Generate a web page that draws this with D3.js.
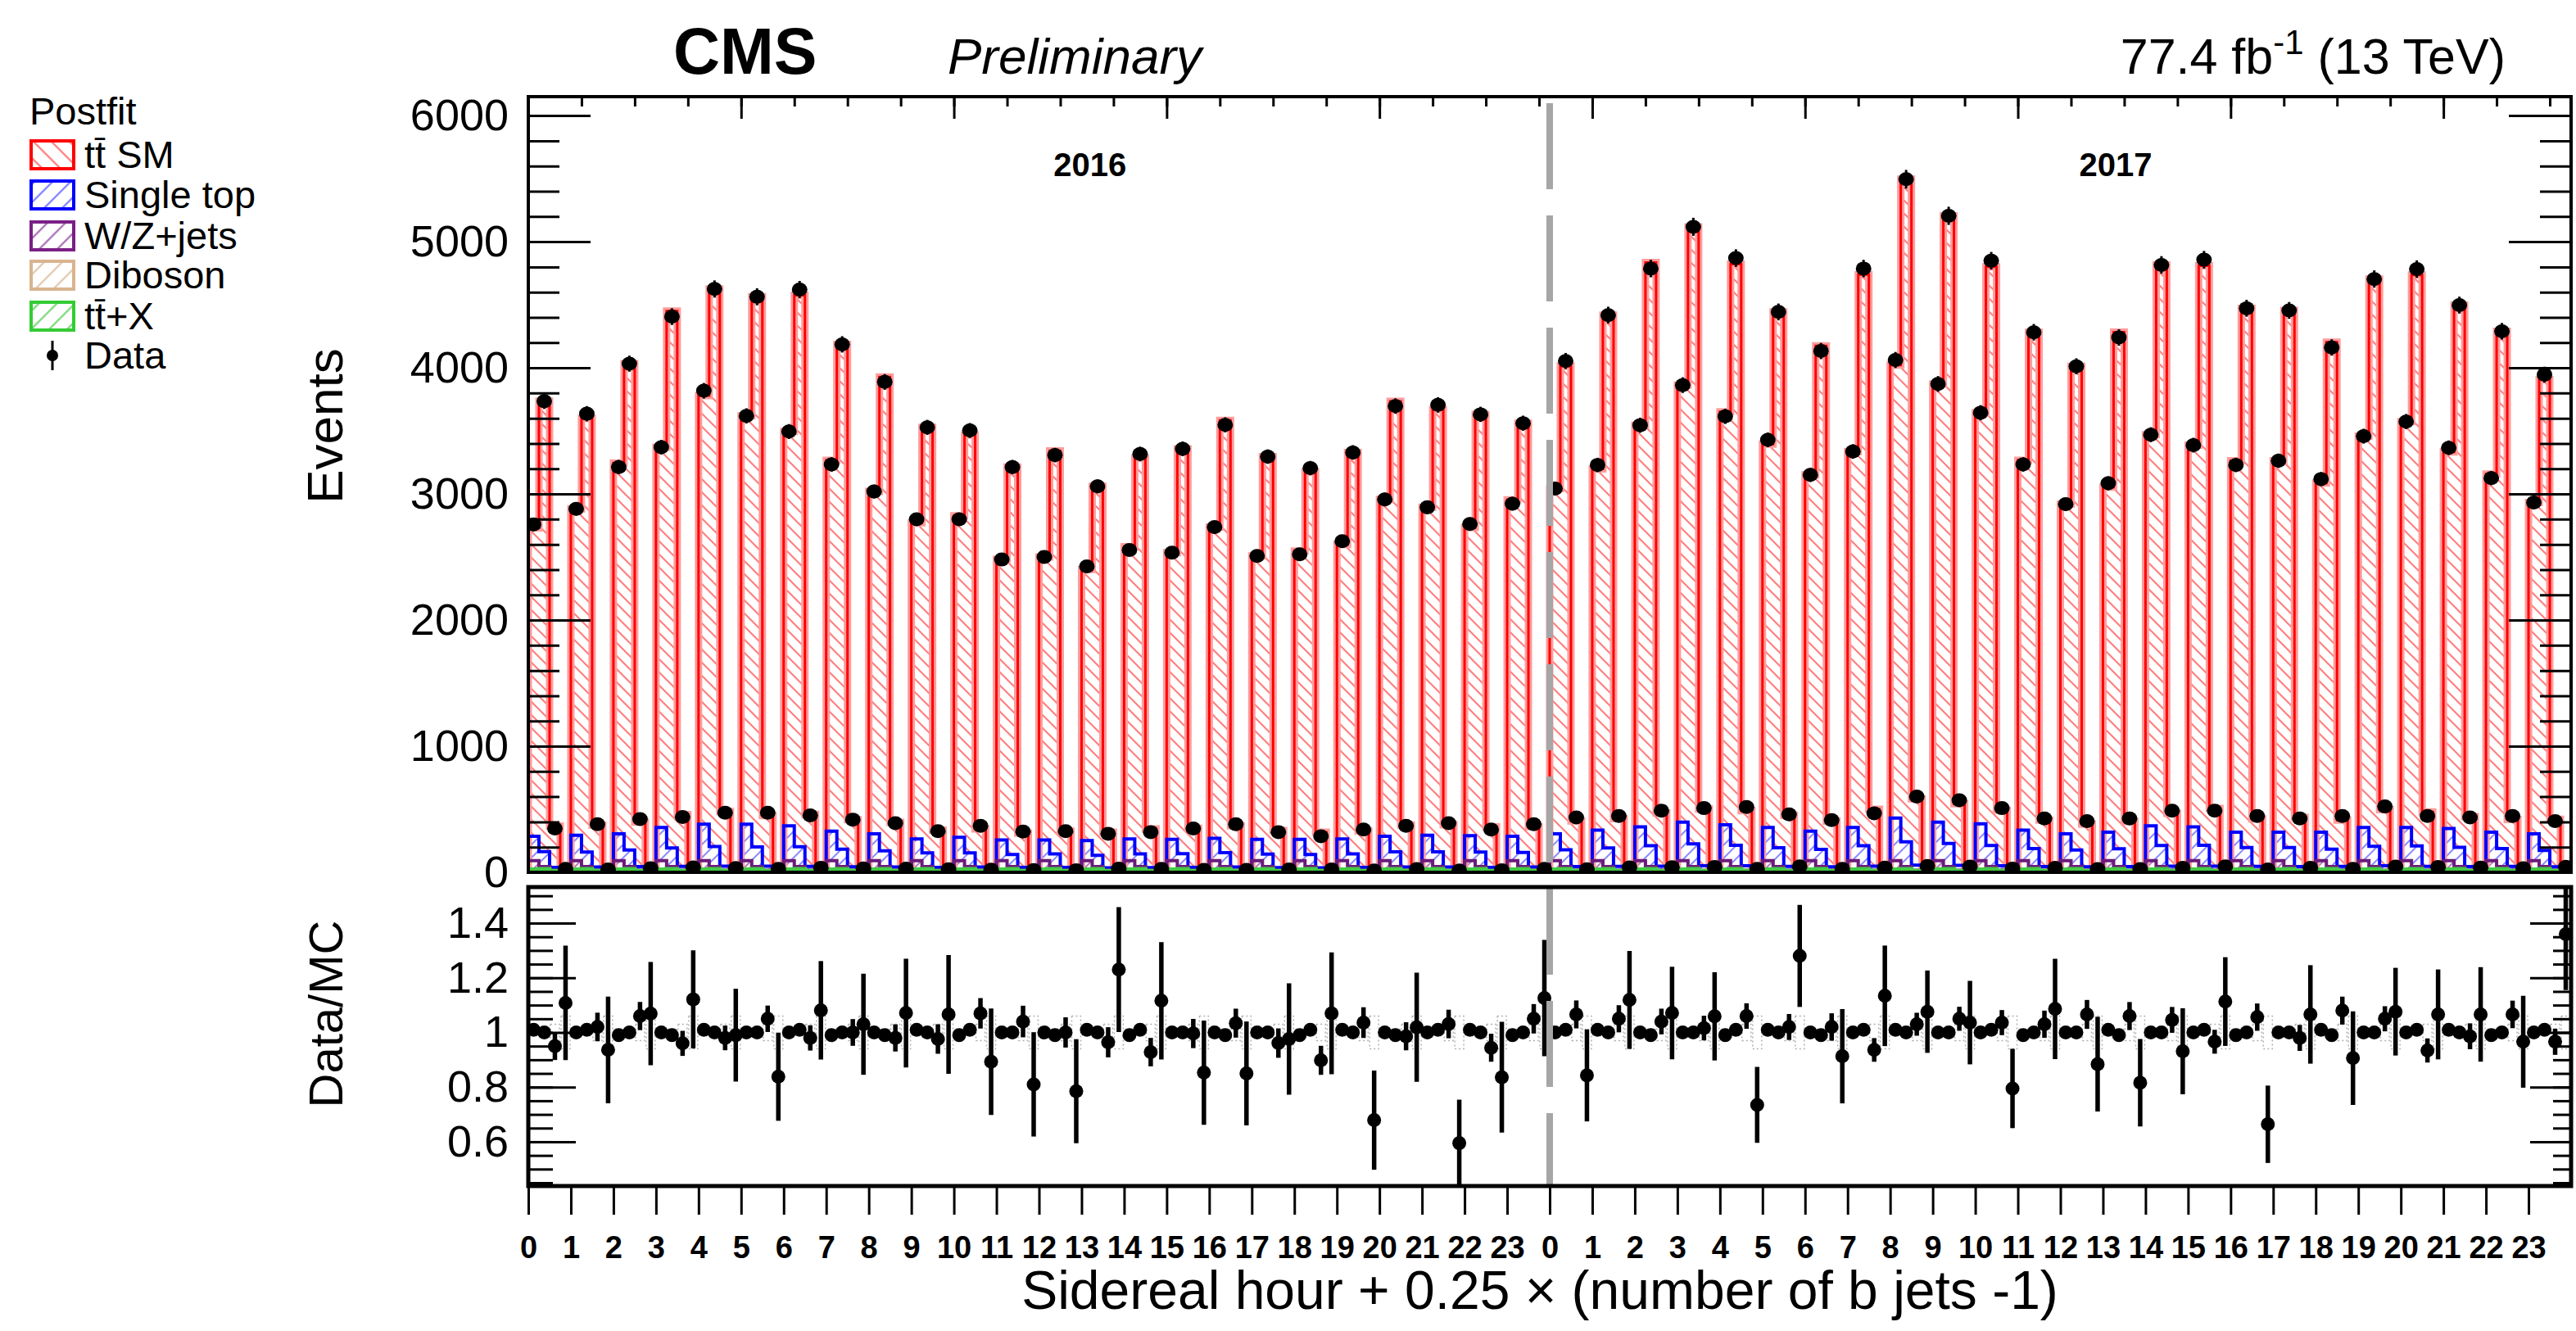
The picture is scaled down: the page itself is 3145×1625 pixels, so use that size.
<!DOCTYPE html>
<html>
<head>
<meta charset="utf-8">
<script src="https://cdn.jsdelivr.net/npm/d3@7"></script>
<style>
  html, body { margin: 0; padding: 0; background: #fff; }
  svg { display: block; font-family: "Liberation Sans", Arial, Helvetica, sans-serif; }
</style>
</head>
<body>
<svg id="chart" width="3145" height="1625"></svg>
<script>
// ---------------- data ----------------
// Sidereal hour labels (repeated for each data-taking year)
const hourLabels = d3.range(24).map(String);
const yearLabels = ["2016", "2017"];

// Observed events per sidereal hour, one array per b-jet multiplicity bin
const obs2016_nb1 = [2758, 2882, 3213, 3371, 3818, 3619, 3495, 3234, 3019, 2799, 2799, 2480, 2501, 2425, 2555, 2534, 2737, 2509, 2522, 2625, 2956, 2894, 2762, 2923];
const obs2016_nb2 = [3735, 3636, 4033, 4406, 4625, 4563, 4621, 4186, 3888, 3528, 3503, 3213, 3308, 3060, 3317, 3358, 3548, 3296, 3205, 3329, 3697, 3706, 3631, 3561];
const obs2016_nb3 = [348, 381, 422, 439, 472, 472, 451, 418, 389, 327, 369, 323, 327, 306, 319, 348, 381, 319, 286, 340, 369, 389, 340, 381];
const obs2016_nb4 = [28, 23, 32, 39, 34, 27, 36, 31, 29, 24, 21, 18, 17, 29, 27, 20, 20, 23, 23, 14, 26, 14, 17, 28];

const obs2017_nb1 = [3043, 3230, 3545, 3863, 3615, 3429, 3151, 3337, 4062, 3872, 3644, 3234, 2919, 3085, 3470, 3387, 3230, 3263, 3118, 3458, 3574, 3366, 3126, 2932];
const obs2017_nb2 = [4054, 4418, 4787, 5118, 4870, 4443, 4133, 4787, 5495, 5205, 4849, 4282, 4012, 4240, 4816, 4857, 4472, 4455, 4161, 4704, 4783, 4497, 4290, 3946];
const obs2017_nb3 = [435, 447, 489, 509, 518, 460, 414, 468, 601, 571, 509, 427, 406, 427, 489, 489, 447, 427, 447, 522, 447, 435, 447, 406];
const obs2017_nb4 = [25, 39, 40, 43, 28, 47, 28, 38, 51, 46, 30, 35, 26, 26, 35, 47, 22, 35, 28, 45, 42, 38, 33, 44];

// Data / postfit prediction
const ratio2016_nb1 = [1.01, 1.00, 0.99, 1.00, 1.01, 1.00, 1.00, 0.99, 1.00, 1.01, 0.99, 1.00, 1.00, 1.01, 0.99, 1.00, 1.00, 1.00, 0.99, 1.01, 1.00, 1.00, 1.01, 0.99];
const ratio2016_nb2 = [1.00, 1.01, 1.00, 0.99, 1.00, 1.00, 1.01, 1.00, 0.99, 1.00, 1.01, 1.00, 0.99, 1.00, 1.01, 1.00, 0.99, 1.00, 1.01, 1.00, 0.99, 1.01, 1.00, 1.00];
const ratio2016_nb3 = [0.95, 1.02, 1.06, 0.96, 0.98, 1.05, 0.98, 1.00, 0.98, 0.976, 1.07, 1.04, 1.00, 0.964, 0.928, 0.996, 1.034, 0.961, 0.898, 1.036, 0.986, 1.031, 0.944, 1.05];
const ratio2016_nb4 = [1.108, 0.936, 1.069, 1.121, 0.99, 0.838, 1.081, 1.03, 1.071, 1.066, 0.893, 0.81, 0.785, 1.23, 1.116, 0.853, 0.85, 0.976, 1.07, 0.679, 1.019, 0.595, 0.836, 1.126];

const ratio2017_nb1 = [1.00, 1.01, 1.00, 1.00, 0.99, 1.01, 1.00, 1.00, 1.01, 1.00, 1.00, 0.99, 1.00, 1.01, 1.00, 1.00, 0.99, 1.00, 1.01, 1.00, 1.00, 1.01, 0.99, 1.00];
const ratio2017_nb2 = [1.01, 1.00, 0.99, 1.00, 1.01, 1.00, 0.99, 1.01, 1.00, 1.00, 1.01, 1.00, 1.00, 0.99, 1.00, 1.01, 1.00, 1.00, 0.99, 1.00, 1.01, 1.00, 1.00, 1.01];
const ratio2017_nb3 = [1.066, 1.05, 1.04, 1.016, 1.06, 1.02, 1.02, 0.936, 1.03, 1.05, 1.036, 1.03, 1.066, 1.06, 1.046, 0.966, 1.056, 0.98, 1.08, 1.05, 0.934, 0.986, 1.066, 0.966];
const ratio2017_nb4 = [0.843, 1.119, 1.071, 1.059, 0.735, 1.28, 0.913, 1.134, 1.076, 1.036, 0.795, 1.086, 0.884, 0.816, 0.931, 1.113, 0.664, 1.066, 0.906, 1.076, 1.066, 1.066, 0.966, 1.36];

// Single top prediction per sidereal hour
const singleTop2016_nb1 = [193, 201, 213, 263, 288, 288, 275, 234, 213, 172, 184, 164, 164, 159, 172, 169, 177, 169, 169, 172, 192, 201, 197, 192];
const singleTop2016_nb2 = [118, 114, 131, 148, 158, 155, 157, 138, 125, 109, 108, 95, 100, 89, 100, 102, 110, 99, 95, 100, 117, 117, 114, 111];
const singleTop2016_nb3 = [24, 27, 30, 31, 33, 33, 32, 29, 27, 23, 26, 23, 23, 21, 22, 24, 27, 22, 20, 24, 26, 27, 24, 27];
const singleTop2016_nb4 = [2, 2, 2, 2, 2, 2, 2, 2, 2, 2, 2, 2, 2, 2, 2, 2, 2, 2, 2, 2, 2, 2, 2, 2];

const singleTop2017_nb1 = [213, 242, 267, 305, 284, 263, 234, 263, 338, 305, 292, 242, 213, 226, 275, 267, 226, 226, 226, 263, 263, 255, 226, 213];
const singleTop2017_nb2 = [132, 148, 165, 179, 168, 149, 136, 165, 196, 183, 167, 142, 131, 141, 166, 168, 151, 150, 137, 161, 164, 152, 143, 128];
const singleTop2017_nb3 = [30, 31, 34, 36, 36, 32, 29, 33, 42, 40, 36, 30, 28, 30, 34, 34, 31, 30, 31, 37, 31, 30, 31, 28];
const singleTop2017_nb4 = [2, 2, 2, 2, 2, 2, 2, 2, 2, 2, 2, 2, 2, 2, 2, 2, 2, 2, 2, 2, 2, 2, 2, 2];

// Smaller backgrounds, per b-jet multiplicity bin (flat in sidereal time)
const ttxByBjet     = [22, 26, 12, 3];
const dibosonByBjet = [6, 2, 0.5, 0.1];
const wzjetsByBjet  = [65, 18, 3, 0.5];

// Relative size of the prediction uncertainty band in the ratio, per b-jet bin
const bandByBjet = [0.012, 0.012, 0.03, 0.06];

// Y tick values
const mainTicks  = [0, 1000, 2000, 3000, 4000, 5000, 6000];
const ratioTicks = [0.6, 0.8, 1.0, 1.2, 1.4];

// Legend entries
const legendNames  = ["tt\u0304 SM", "Single top", "W/Z+jets", "Diboson", "tt\u0304+X", "Data"];
const legendColors = ["#ff0000", "#0000ff", "#7b1f86", "#d9b48f", "#33cc33", "#000000"];

// ---------------- assemble bins ----------------
const perYear = [
  { obs: [obs2016_nb1, obs2016_nb2, obs2016_nb3, obs2016_nb4],
    ratio: [ratio2016_nb1, ratio2016_nb2, ratio2016_nb3, ratio2016_nb4],
    st: [singleTop2016_nb1, singleTop2016_nb2, singleTop2016_nb3, singleTop2016_nb4] },
  { obs: [obs2017_nb1, obs2017_nb2, obs2017_nb3, obs2017_nb4],
    ratio: [ratio2017_nb1, ratio2017_nb2, ratio2017_nb3, ratio2017_nb4],
    st: [singleTop2017_nb1, singleTop2017_nb2, singleTop2017_nb3, singleTop2017_nb4] }
];

const bins = [];
perYear.forEach((yr, yi) => {
  for (let h = 0; h < 24; h++) {
    for (let k = 0; k < 4; k++) {
      const i = yi * 96 + h * 4 + k;
      const obs = yr.obs[k][h];
      const r = yr.ratio[k][h];
      const mc = obs / r;
      const c1 = ttxByBjet[k];
      const c2 = c1 + dibosonByBjet[k];
      const c3 = c2 + wzjetsByBjet[k];
      const c4 = c3 + yr.st[k][h];
      bins.push({ i, k, x0: i / 4, x1: (i + 1) / 4, obs, ratio: r, mc,
                  stack: [0, c1, c2, c3, c4, mc] });
    }
  }
});

// ---------------- layout ----------------
const X0 = 645, X1 = 3139;
const MAIN_TOP = 118, MAIN_BOT = 1065;
const RAT_TOP = 1083, RAT_BOT = 1448;

const x = d3.scaleLinear().domain([0, 48]).range([X0, X1]);
const yMain = d3.scaleLinear().domain([0, 6150]).range([MAIN_BOT, MAIN_TOP]);
const yRatio = d3.scaleLinear().domain([0.438, 1.532]).range([RAT_BOT, RAT_TOP]);

const svg = d3.select("#chart");
const defs = svg.append("defs");

function hatch(id, color, dir, gap, width) {
  const p = defs.append("pattern").attr("id", id).attr("patternUnits", "userSpaceOnUse")
    .attr("width", gap).attr("height", gap);
  const d = dir === "back"
    ? `M0,0L${gap},${gap}M${-gap / 2},${gap / 2}L${gap / 2},${gap * 1.5}M${gap / 2},${-gap / 2}L${gap * 1.5},${gap / 2}`
    : `M0,${gap}L${gap},0M${-gap / 2},${gap / 2}L${gap / 2},${-gap / 2}M${gap / 2},${gap * 1.5}L${gap * 1.5},${gap / 2}`;
  p.append("path").attr("d", d).attr("stroke", color).attr("stroke-width", width).attr("fill", "none");
}
hatch("hTT", "#ff8080", "back", 16, 2.2);
hatch("hST", "#8c8cff", "fwd", 16, 2);
hatch("hWZ", "#b27fbd", "fwd", 16, 2);
hatch("hDB", "#e5cdb4", "fwd", 16, 2);
hatch("hTX", "#88dd88", "fwd", 16, 2);
hatch("hLegTT", "#ff8a8a", "back", 22, 2.5);
hatch("hLegST", "#8c8cff", "fwd", 22, 2.5);
hatch("hLegWZ", "#b27fbd", "fwd", 22, 2.5);
hatch("hLegDB", "#e5cdb4", "fwd", 22, 2.5);
hatch("hLegTX", "#88dd88", "fwd", 22, 2.5);

defs.append("clipPath").attr("id", "clipMain").append("rect")
  .attr("x", X0).attr("y", MAIN_TOP).attr("width", X1 - X0).attr("height", MAIN_BOT - MAIN_TOP);
defs.append("clipPath").attr("id", "clipRatio").append("rect")
  .attr("x", X0).attr("y", RAT_TOP).attr("width", X1 - X0).attr("height", RAT_BOT - RAT_TOP);

// ---------------- main pad: stacked histograms ----------------
const gMain = svg.append("g").attr("clip-path", "url(#clipMain)");

function stepTop(level) {
  let p = `M${x(0)},${yMain(0)}`;
  bins.forEach(b => {
    const yy = yMain(b.stack[level]);
    p += `L${x(b.x0)},${yy}L${x(b.x1)},${yy}`;
  });
  return p + `L${x(48)},${yMain(0)}`;
}
function bandArea(lo, hi) {
  let p = "";
  bins.forEach((b, n) => {
    const yy = yMain(b.stack[hi]);
    p += (n === 0 ? "M" : "L") + `${x(b.x0)},${yy}L${x(b.x1)},${yy}`;
  });
  for (let n = bins.length - 1; n >= 0; n--) {
    const b = bins[n];
    const yy = yMain(b.stack[lo]);
    p += `L${x(b.x1)},${yy}L${x(b.x0)},${yy}`;
  }
  return p + "Z";
}

// components from top of stack to bottom
const comps = [
  { lo: 4, hi: 5, fill: "url(#hTT)", stroke: "#ff0000", glow: "#ff9c9c", w: 3 },
  { lo: 3, hi: 4, fill: "url(#hST)", stroke: "#0000ff", glow: null, w: 4 },
  { lo: 2, hi: 3, fill: "url(#hWZ)", stroke: "#6a1b7a", glow: null, w: 4 },
  { lo: 1, hi: 2, fill: "url(#hDB)", stroke: "#d9b48f", glow: null, w: 3 },
  { lo: 0, hi: 1, fill: "url(#hTX)", stroke: "#44c944", glow: null, w: 5 }
];
comps.forEach(c => {
  gMain.append("path").attr("d", bandArea(c.lo, c.hi)).attr("fill", c.fill).attr("stroke", "none");
});
comps.forEach(c => {
  if (c.glow) {
    gMain.append("path").attr("d", stepTop(c.hi)).attr("fill", "none")
      .attr("stroke", c.glow).attr("stroke-width", 9).attr("stroke-linejoin", "miter");
  }
  gMain.append("path").attr("d", stepTop(c.hi)).attr("fill", "none")
    .attr("stroke", c.stroke).attr("stroke-width", c.w).attr("stroke-linejoin", "miter");
});

// data points in the main pad
const cxOf = b => x((b.x0 + b.x1) / 2);
gMain.append("g").selectAll("line").data(bins).join("line")
  .attr("x1", cxOf).attr("x2", cxOf)
  .attr("y1", b => yMain(b.obs + Math.sqrt(b.obs)))
  .attr("y2", b => yMain(Math.max(0, b.obs - Math.sqrt(b.obs))))
  .attr("stroke", "#000").attr("stroke-width", 3);
gMain.append("g").selectAll("ellipse").data(bins).join("ellipse")
  .attr("cx", cxOf).attr("cy", b => yMain(b.obs)).attr("rx", 9.5).attr("ry", 8.5)
  .attr("fill", "#000");

// ---------------- ratio pad ----------------
const gRat = svg.append("g").attr("clip-path", "url(#clipRatio)");
gRat.append("g").selectAll("rect").data(bins).join("rect")
  .attr("x", b => x(b.x0) + 1).attr("width", b => x(b.x1) - x(b.x0) - 2)
  .attr("y", b => yRatio(1 + bandByBjet[b.k]))
  .attr("height", b => yRatio(1 - bandByBjet[b.k]) - yRatio(1 + bandByBjet[b.k]))
  .attr("fill", "none").attr("stroke", "#b0b0b0").attr("stroke-width", 1.5)
  .attr("stroke-dasharray", "2,3");
gRat.append("g").selectAll("line").data(bins).join("line")
  .attr("x1", cxOf).attr("x2", cxOf)
  .attr("y1", b => yRatio(b.ratio + Math.sqrt(b.obs) / b.mc))
  .attr("y2", b => yRatio(b.ratio - Math.sqrt(b.obs) / b.mc))
  .attr("stroke", "#000").attr("stroke-width", 5.5);
gRat.append("g").selectAll("circle").data(bins).join("circle")
  .attr("cx", cxOf).attr("cy", b => yRatio(b.ratio)).attr("r", 8.5)
  .attr("fill", "#000");

// year separator
svg.append("line").attr("x1", x(24)).attr("x2", x(24))
  .attr("y1", MAIN_TOP + 8).attr("y2", RAT_BOT)
  .attr("stroke", "#a6a6a6").attr("stroke-width", 8).attr("stroke-dasharray", "105,32");

// ---------------- axes ----------------
function cleanAxis(g) { g.select(".domain").remove(); g.selectAll("text").remove(); }
const tickStyle = g => g.selectAll("line").attr("stroke", "#000").attr("stroke-width", 3);

const minorMain = d3.range(0, 6150, 200);
svg.append("g").attr("transform", `translate(${X0},0)`)
  .call(d3.axisRight(yMain).tickValues(minorMain).tickSize(38)).call(cleanAxis).call(tickStyle);
svg.append("g").attr("transform", `translate(${X0},0)`)
  .call(d3.axisRight(yMain).tickValues(mainTicks).tickSize(76)).call(cleanAxis).call(tickStyle);
svg.append("g").attr("transform", `translate(${X1},0)`)
  .call(d3.axisLeft(yMain).tickValues(minorMain).tickSize(38)).call(cleanAxis).call(tickStyle);
svg.append("g").attr("transform", `translate(${X1},0)`)
  .call(d3.axisLeft(yMain).tickValues(mainTicks).tickSize(76)).call(cleanAxis).call(tickStyle);

// main y labels
const yLab = svg.append("g").attr("transform", `translate(${X0},0)`)
  .call(d3.axisLeft(yMain).tickValues(mainTicks).tickSize(0).tickPadding(24).tickFormat(d3.format("d")));
yLab.select(".domain").remove();
yLab.selectAll("text").attr("font-size", 54).attr("fill", "#000")
  .attr("font-family", "Liberation Sans, Arial, sans-serif");

// top ticks of the main pad
const fine = d3.range(0, 48.01, 1.25);
const coarse = d3.range(0, 48.01, 5);
svg.append("g").attr("transform", `translate(0,${MAIN_TOP})`)
  .call(d3.axisBottom(x).tickValues(fine).tickSize(12)).call(cleanAxis).call(tickStyle);
svg.append("g").attr("transform", `translate(0,${MAIN_TOP})`)
  .call(d3.axisBottom(x).tickValues(coarse).tickSize(27)).call(cleanAxis).call(tickStyle);

// ratio pad y ticks and labels
const minorRatio = d3.range(0.45, 1.53, 0.05);
svg.append("g").attr("transform", `translate(${X0},0)`)
  .call(d3.axisRight(yRatio).tickValues(minorRatio).tickSize(30)).call(cleanAxis).call(tickStyle);
svg.append("g").attr("transform", `translate(${X0},0)`)
  .call(d3.axisRight(yRatio).tickValues(ratioTicks).tickSize(58)).call(cleanAxis).call(tickStyle);
svg.append("g").attr("transform", `translate(${X1},0)`)
  .call(d3.axisLeft(yRatio).tickValues(minorRatio).tickSize(22)).call(cleanAxis).call(tickStyle);
svg.append("g").attr("transform", `translate(${X1},0)`)
  .call(d3.axisLeft(yRatio).tickValues(ratioTicks).tickSize(50)).call(cleanAxis).call(tickStyle);
const rLab = svg.append("g").attr("transform", `translate(${X0},0)`)
  .call(d3.axisLeft(yRatio).tickValues(ratioTicks).tickSize(0).tickPadding(24)
    .tickFormat(d => d === 1 ? "1" : d3.format(".1f")(d)));
rLab.select(".domain").remove();
rLab.selectAll("text").attr("font-size", 54).attr("fill", "#000")
  .attr("font-family", "Liberation Sans, Arial, sans-serif");

// hour axis under the ratio pad
const hourTicks = d3.range(0, 48);
const xAx = svg.append("g").attr("transform", `translate(0,${RAT_BOT})`)
  .call(d3.axisBottom(x).tickValues(hourTicks).tickSize(35).tickPadding(26)
    .tickFormat(d => hourLabels[d % 24]));
xAx.select(".domain").remove();
xAx.call(tickStyle);
xAx.selectAll("text").attr("font-size", 38).attr("font-weight", "bold").attr("fill", "#000")
  .attr("font-family", "Liberation Sans, Arial, sans-serif");

// frames
svg.append("rect").attr("x", X0).attr("y", MAIN_TOP).attr("width", X1 - X0).attr("height", MAIN_BOT - MAIN_TOP)
  .attr("fill", "none").attr("stroke", "#000").attr("stroke-width", 4);
svg.append("rect").attr("x", X0).attr("y", RAT_TOP).attr("width", X1 - X0).attr("height", RAT_BOT - RAT_TOP)
  .attr("fill", "none").attr("stroke", "#000").attr("stroke-width", 5);

// ---------------- titles and labels ----------------
svg.append("text").attr("x", 1880).attr("y", 1598).attr("text-anchor", "middle")
  .attr("font-size", 66).text("Sidereal hour + 0.25 \u00d7 (number of b jets -1)");

svg.append("text").attr("transform", "translate(418,520) rotate(-90)").attr("text-anchor", "middle")
  .attr("font-size", 62).text("Events");
svg.append("text").attr("transform", "translate(418,1238) rotate(-90)").attr("text-anchor", "middle")
  .attr("font-size", 58).text("Data/MC");

svg.append("text").attr("x", 822).attr("y", 90).attr("font-size", 79).attr("font-weight", "bold").text("CMS");
svg.append("text").attr("x", 1157).attr("y", 90).attr("font-size", 62).attr("font-style", "italic").text("Preliminary");
const lumi = svg.append("text").attr("x", 3059).attr("y", 90).attr("font-size", 61).attr("text-anchor", "end");
lumi.append("tspan").text("77.4 fb");
lumi.append("tspan").attr("dy", -24).attr("font-size", 42).text("-1");
lumi.append("tspan").attr("dy", 24).text(" (13 TeV)");

svg.append("text").attr("x", x(13.2)).attr("y", 215).attr("text-anchor", "middle")
  .attr("font-size", 40).attr("font-weight", "bold").text(yearLabels[0]);
svg.append("text").attr("x", x(37.3)).attr("y", 215).attr("text-anchor", "middle")
  .attr("font-size", 40).attr("font-weight", "bold").text(yearLabels[1]);

// ---------------- legend ----------------
const leg = svg.append("g");
leg.append("text").attr("x", 36).attr("y", 152).attr("font-size", 47).text("Postfit");
const legFills = ["url(#hLegTT)", "url(#hLegST)", "url(#hLegWZ)", "url(#hLegDB)", "url(#hLegTX)"];
const legY = [189, 238, 288, 336, 386, 434];
legendNames.forEach((name, n) => {
  const cy = legY[n];
  if (n < 5) {
    leg.append("rect").attr("x", 38).attr("y", cy - 17).attr("width", 52).attr("height", 34)
      .attr("fill", legFills[n]).attr("stroke", legendColors[n]).attr("stroke-width", 4);
  } else {
    leg.append("line").attr("x1", 64).attr("x2", 64).attr("y1", cy - 18).attr("y2", cy + 18)
      .attr("stroke", "#000").attr("stroke-width", 3);
    leg.append("circle").attr("cx", 64).attr("cy", cy).attr("r", 7).attr("fill", "#000");
  }
  leg.append("text").attr("x", 103).attr("y", cy + 16).attr("font-size", 47).text(name);
});
</script>
</body>
</html>
